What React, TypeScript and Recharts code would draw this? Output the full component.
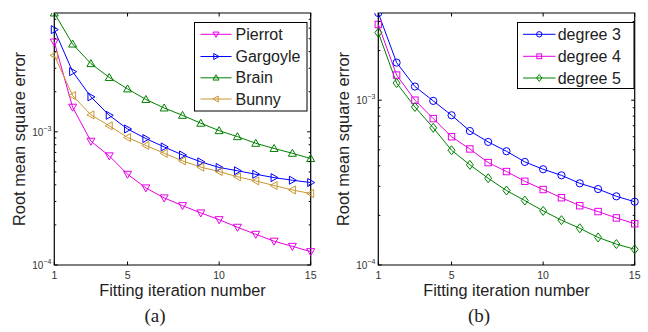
import React from 'react';
import { LineChart, Line, XAxis, YAxis, ReferenceArea } from 'recharts';

const iterations = [1, 2, 3, 4, 5, 6, 7, 8, 9, 10, 11, 12, 13, 14, 15];
const xTicks = [1, 5, 10, 15];

// Panel (a)
const pierrot = [4.72e-3, 1.53e-3, 8.5e-4, 6.6e-4, 4.8e-4, 3.79e-4, 3.19e-4, 2.79e-4, 2.46e-4, 2.19e-4, 1.92e-4, 1.7e-4, 1.51e-4, 1.38e-4, 1.26e-4];
const gargoyle = [5.85e-3, 2.83e-3, 1.83e-3, 1.33e-3, 1.05e-3, 8.9e-4, 7.7e-4, 6.7e-4, 5.95e-4, 5.4e-4, 5.1e-4, 4.8e-4, 4.53e-4, 4.33e-4, 4.16e-4];
const brain = [7.8e-3, 4.56e-3, 3.25e-3, 2.56e-3, 2.1e-3, 1.75e-3, 1.51e-3, 1.33e-3, 1.16e-3, 1.02e-3, 9.2e-4, 8.2e-4, 7.5e-4, 6.9e-4, 6.3e-4];
const bunny = [3.75e-3, 1.87e-3, 1.34e-3, 1.11e-3, 9.06e-4, 7.9e-4, 6.9e-4, 6.05e-4, 5.43e-4, 5.03e-4, 4.6e-4, 4.28e-4, 3.95e-4, 3.66e-4, 3.44e-4];
const yDomainA = [1e-4, 7.8e-3];
const yTicksA = [1e-4, 2e-4, 3e-4, 4e-4, 5e-4, 6e-4, 7e-4, 8e-4, 9e-4, 1e-3, 2e-3, 3e-3, 4e-3, 5e-3, 6e-3, 7e-3];

// Panel (b)
const degree3 = [3.38e-3, 1.69e-3, 1.21e-3, 9.9e-4, 8.1e-4, 6.5e-4, 5.58e-4, 4.9e-4, 4.22e-4, 3.81e-4, 3.5e-4, 3.13e-4, 2.89e-4, 2.61e-4, 2.42e-4];
const degree4 = [2.88e-3, 1.42e-3, 1.0e-3, 7.73e-4, 6.0e-4, 5.06e-4, 4.18e-4, 3.69e-4, 3.22e-4, 2.87e-4, 2.56e-4, 2.29e-4, 2.11e-4, 1.93e-4, 1.78e-4];
const degree5 = [2.57e-3, 1.27e-3, 9.1e-4, 6.8e-4, 4.97e-4, 4.05e-4, 3.36e-4, 2.83e-4, 2.46e-4, 2.13e-4, 1.87e-4, 1.67e-4, 1.47e-4, 1.34e-4, 1.245e-4];
const yDomainB = [1e-4, 3.38e-3];
const yTicksB = [1e-4, 2e-4, 3e-4, 4e-4, 5e-4, 6e-4, 7e-4, 8e-4, 9e-4, 1e-3, 2e-3, 3e-3];

const seriesA = [
  { key: 'pierrot', name: 'Pierrot', color: '#e600e6', shape: 'v', values: pierrot },
  { key: 'gargoyle', name: 'Gargoyle', color: '#0000ff', shape: '>', values: gargoyle },
  { key: 'brain', name: 'Brain', color: '#008000', shape: '^', values: brain },
  { key: 'bunny', name: 'Bunny', color: '#c89632', shape: '<', values: bunny },
];
const seriesB = [
  { key: 'd3', name: 'degree 3', color: '#0000ff', shape: 'o', values: degree3 },
  { key: 'd4', name: 'degree 4', color: '#e600e6', shape: 's', values: degree4 },
  { key: 'd5', name: 'degree 5', color: '#008000', shape: 'd', values: degree5 },
];

const SANS = '"Liberation Sans", Arial, Helvetica, sans-serif';
const SERIF = '"Liberation Serif", "Times New Roman", serif';
const TICK_COLOR = '#333';

function Marker({ cx, cy, shape, color, s = 1 }: any) {
  const common = { fill: 'none', stroke: color, strokeWidth: 1 };
  const r = 4 * s;
  const h = 3 * s;
  switch (shape) {
    case 'v':
      return <polygon {...common} points={`${cx - r},${cy - h} ${cx + r},${cy - h} ${cx},${cy + r}`} />;
    case '^':
      return <polygon {...common} points={`${cx - r},${cy + h} ${cx + r},${cy + h} ${cx},${cy - r}`} />;
    case '>':
      return <polygon {...common} points={`${cx - h},${cy - r} ${cx - h},${cy + r} ${cx + r},${cy}`} />;
    case '<':
      return <polygon {...common} points={`${cx + h},${cy - r} ${cx + h},${cy + r} ${cx - r},${cy}`} />;
    case 'o':
      return <circle {...common} cx={cx} cy={cy} r={3.6 * s} />;
    case 's':
      return <rect {...common} x={cx - 3.2 * s} y={cy - 3.2 * s} width={6.4 * s} height={6.4 * s} />;
    case 'd':
      return <polygon {...common} points={`${cx},${cy - 4.5 * s} ${cx + 3.5 * s},${cy} ${cx},${cy + 4.5 * s} ${cx - 3.5 * s},${cy}`} />;
    default:
      return null;
  }
}

const isMajor = (v: number) => Math.abs(Math.log10(v) - Math.round(Math.log10(v))) < 1e-6;

const XTickBottom = (props: any) => {
  const { x, y, payload } = props;
  return (
    <g>
      <line x1={x} y1={y} x2={x} y2={y - 3.5} stroke="#000" />
      <text x={x} y={y + 14} textAnchor="middle" fontSize={10.5} fontFamily={SANS} fill={TICK_COLOR}>
        {payload.value}
      </text>
    </g>
  );
};
const XTickTop = (props: any) => {
  const { x, y } = props;
  return <line x1={x} y1={y} x2={x} y2={y + 3.5} stroke="#000" />;
};
const YTickLeft = (props: any) => {
  const { x, y, payload } = props;
  const major = isMajor(payload.value);
  const exp = Math.round(Math.log10(payload.value));
  return (
    <g>
      <line x1={x} y1={y} x2={x + (major ? 3.5 : 2)} y2={y} stroke="#000" />
      {major && (
        <text x={x - 3} y={y + 4} textAnchor="end" fontSize={10} fontFamily={SANS} fill={TICK_COLOR}>
          10<tspan dy={-5} fontSize={7}>{'\u2212' + Math.abs(exp)}</tspan>
        </text>
      )}
    </g>
  );
};
const YTickRight = (props: any) => {
  const { x, y, payload } = props;
  const major = isMajor(payload.value);
  return <line x1={x} y1={y} x2={x - (major ? 3.5 : 2)} y2={y} stroke="#000" />;
};

const YLabel = (props: any) => {
  const vb = props.viewBox || { x: 0, y: 0, width: 0, height: 0 };
  const cx = vb.x + 19;
  const cy = vb.y + vb.height / 2;
  return (
    <text x={cx} y={cy} transform={`rotate(-90 ${cx} ${cy})`} textAnchor="middle" dominantBaseline="central" fontSize={16.4} fontFamily={SANS} fill="#222">
      Root mean square error
    </text>
  );
};
const XLabel = (props: any) => {
  const vb = props.viewBox || { x: 0, y: 0, width: 0, height: 0 };
  return (
    <text x={vb.x + vb.width / 2} y={vb.y + 25} textAnchor="middle" dominantBaseline="central" fontSize={16.3} fontFamily={SANS} fill="#222">
      Fitting iteration number
    </text>
  );
};

function LegendBox({ series, width, height, rowY, lineX1, lineX2, textX, left, top }: any) {
  return (
    <svg width={width + 2} height={height + 2} style={{ position: 'absolute', left, top, display: 'block' }}>
      <rect x={0.5} y={0.5} width={width} height={height} fill="#fff" stroke="#000" strokeWidth={1} />
      {series.map((s: any, i: number) => {
        const y = rowY[i];
        const mx = (lineX1 + lineX2) / 2;
        return (
          <g key={s.key}>
            <line x1={lineX1} y1={y} x2={lineX2} y2={y} stroke={s.color} strokeWidth={1} />
            <Marker cx={mx} cy={y} shape={s.shape} color={s.color} s={0.75} />
            <text x={textX} y={y} dominantBaseline="central" fontSize={16} fontFamily={SANS} fill="#222">
              {s.name}
            </text>
          </g>
        );
      })}
    </svg>
  );
}

function Panel({ series, domain, ticks }: any) {
  const data = iterations.map((x, i) => {
    const row: any = { x };
    series.forEach((s: any) => {
      row[s.key] = s.values[i];
    });
    return row;
  });
  return (
    <LineChart width={324} height={332} data={data} margin={{ top: 12, right: 12, bottom: 37, left: 0 }}>
      <XAxis
        xAxisId="b"
        dataKey="x"
        type="number"
        domain={[1, 15]}
        ticks={xTicks}
        interval={0}
        height={30}
        tickSize={0}
        tickMargin={0}
        tickLine={false}
        axisLine={false}
        tick={<XTickBottom />}
        label={<XLabel />}
      />
      <XAxis
        xAxisId="t"
        orientation="top"
        dataKey="x"
        type="number"
        domain={[1, 15]}
        ticks={xTicks}
        interval={0}
        height={1}
        tickSize={0}
        tickMargin={0}
        tickLine={false}
        axisLine={false}
        tick={<XTickTop />}
      />
      <YAxis
        yAxisId="l"
        type="number"
        scale="log"
        domain={domain}
        allowDataOverflow
        ticks={ticks}
        interval={0}
        width={54.3}
        tickSize={0}
        tickMargin={0}
        tickLine={false}
        axisLine={false}
        tick={<YTickLeft />}
        label={<YLabel />}
      />
      <YAxis
        yAxisId="r"
        orientation="right"
        type="number"
        scale="log"
        domain={domain}
        allowDataOverflow
        ticks={ticks}
        interval={0}
        width={1.3}
        tickSize={0}
        tickMargin={0}
        tickLine={false}
        axisLine={false}
        tick={<YTickRight />}
      />
      <ReferenceArea
        xAxisId="b"
        yAxisId="l"
        x1={1}
        x2={15}
        y1={domain[0]}
        y2={domain[1]}
        fill="none"
        fillOpacity={0}
        stroke="#000"
        strokeWidth={1.2}
        strokeOpacity={1}
        ifOverflow="visible"
      />
      {series.map((s: any) => (
        <Line
          key={s.key}
          xAxisId="b"
          yAxisId="l"
          dataKey={s.key}
          name={s.name}
          stroke={s.color}
          strokeWidth={1}
          isAnimationActive={false}
          dot={(p: any) => <Marker key={`${s.key}-${p.index}`} cx={p.cx} cy={p.cy} shape={s.shape} color={s.color} />}
          activeDot={false}
        />
      ))}
    </LineChart>
  );
}

export default function App() {
  return (
    <div style={{ position: 'absolute', left: 0, top: 0, width: 648, height: 332, background: '#fff' }}>
      <div style={{ position: 'absolute', left: 0, top: 0 }}>
        <Panel series={seriesA} domain={yDomainA} ticks={yTicksA} />
      </div>
      <div style={{ position: 'absolute', left: 324, top: 0 }}>
        <Panel series={seriesB} domain={yDomainB} ticks={yTicksB} />
      </div>
      <LegendBox series={seriesA} left={194} top={22} width={112.5} height={88.5} rowY={[12.3, 34.5, 55.8, 77]} lineX1={6.5} lineX2={37.5} textX={41.5} />
      <LegendBox series={seriesB} left={517} top={22} width={116.5} height={66} rowY={[12.3, 34.3, 56]} lineX1={6} lineX2={38.5} textX={40.7} />
      <div style={{ position: 'absolute', left: 135, top: 304, width: 40, textAlign: 'center', fontFamily: SERIF, fontSize: 19, lineHeight: '24px', color: '#222' }}>
        (a)
      </div>
      <div style={{ position: 'absolute', left: 459, top: 304, width: 40, textAlign: 'center', fontFamily: SERIF, fontSize: 19, lineHeight: '24px', color: '#222' }}>
        (b)
      </div>
    </div>
  );
}
